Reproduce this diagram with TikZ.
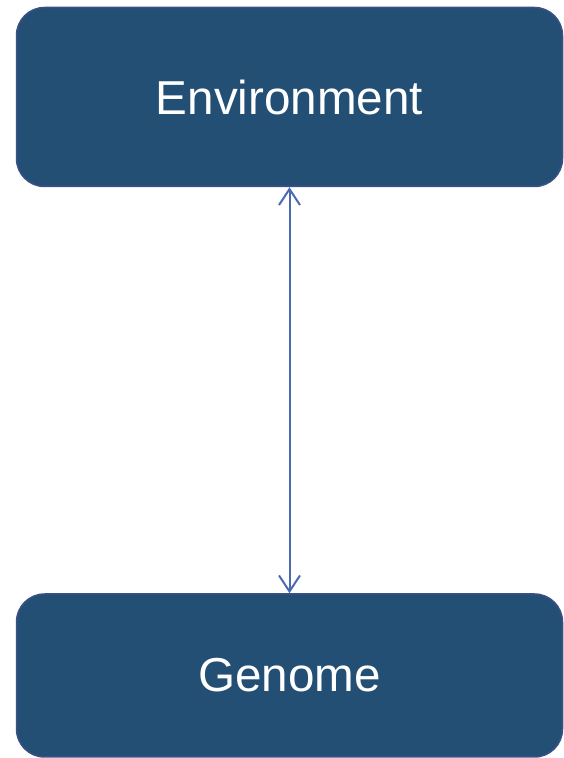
\documentclass[tikz,border=0pt]{standalone}
\usepackage{fontspec}
\setmainfont{Liberation Sans}
\usetikzlibrary{positioning,arrows.meta}
\definecolor{cBox}{HTML}{244F75}
\definecolor{cEdge}{HTML}{3C5087}
\definecolor{cArrow}{HTML}{4A6AB4}

\begin{document}
\begin{tikzpicture}[
    x=1pt, y=1pt,
    font=\fontsize{47.6}{56}\selectfont,
    box/.style={draw=cEdge, line width=1.5pt, fill=cBox, text=white, rounded corners=28pt, minimum width=546pt, inner sep=0pt},
    arr/.style={{Straight Barb[length=16pt,width=21pt]}-{Straight Barb[length=16pt,width=21pt]}, line width=2pt, cArrow},
    node distance=406pt
]
\useasboundingbox (0,0) rectangle (564,758);
\node[box, minimum height=179pt] (env) at (289.5,661) {Environment};
\node[box, minimum height=163pt, below=of env] (genome) {Genome};

\draw[arr] (env) -- (genome);
\end{tikzpicture}
\end{document}
